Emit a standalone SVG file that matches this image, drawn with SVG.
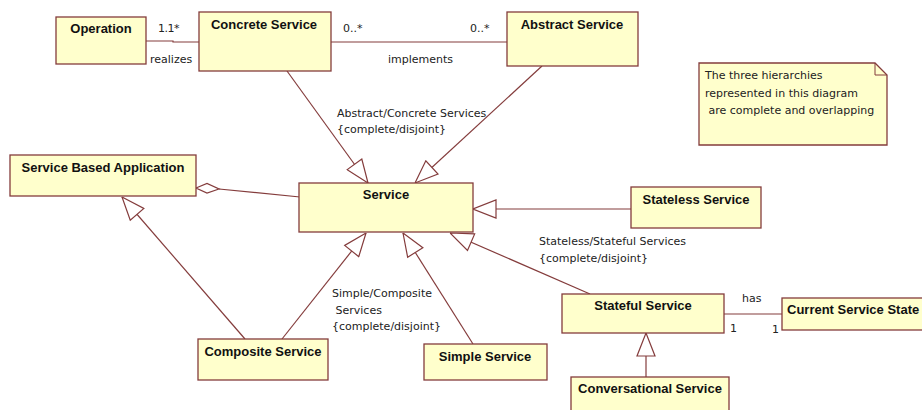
<svg xmlns="http://www.w3.org/2000/svg" width="922" height="410" viewBox="0 0 922 410">
  <style>
    .cls { fill: #ffffcc; stroke: #843c3c; stroke-width: 1.3; }
    .title { font-family: "Liberation Sans", Arial, sans-serif; font-size: 13px; font-weight: bold; fill: #111; text-anchor: middle; }
    .lbl { font-family: "DejaVu Sans", Verdana, sans-serif; font-size: 11px; fill: #222; }
    .ln { stroke: #843c3c; stroke-width: 1.2; fill: none; }
  </style>
  <defs>
    <!-- hollow generalization triangle, tip at the line start -->
    <marker id="genArrow" viewBox="0 0 26 20" refX="0" refY="10" markerWidth="26" markerHeight="20" markerUnits="userSpaceOnUse" orient="auto">
      <path d="M0,10 L23,1 L23,19 Z" fill="#fff" stroke="#843c3c" stroke-width="1.2"/>
    </marker>
  </defs>
  <rect width="922" height="410" fill="#fff"/>

  <!-- connectors -->
  <g id="connectors">
    <!-- realizes -->
    <polyline class="ln" points="146,41 173,41 173,42 199,42"/>
    <!-- implements -->
    <line class="ln" x1="331" y1="42" x2="507" y2="42"/>
    <!-- Abstract/Concrete generalizations -->
    <line class="ln" x1="368" y1="183" x2="287" y2="71" marker-start="url(#genArrow)"/>
    <line class="ln" x1="415" y1="183" x2="542" y2="66" marker-start="url(#genArrow)"/>
    <!-- aggregation -->
    <line class="ln" x1="219" y1="189" x2="300" y2="197"/>
    <path d="M196,188 L207,183.5 L219,189 L207,193 Z" fill="#fff" stroke="#843c3c" stroke-width="1.2"/>
    <!-- Composite to Service Based Application -->
    <line class="ln" x1="122" y1="197" x2="245" y2="339" marker-start="url(#genArrow)"/>
    <!-- Simple/Composite generalizations -->
    <line class="ln" x1="366" y1="233" x2="282" y2="339" marker-start="url(#genArrow)"/>
    <line class="ln" x1="403" y1="233" x2="473" y2="344" marker-start="url(#genArrow)"/>
    <!-- Stateless/Stateful generalizations -->
    <line class="ln" x1="473" y1="209" x2="631" y2="209" marker-start="url(#genArrow)"/>
    <line class="ln" x1="450" y1="233" x2="590" y2="294" marker-start="url(#genArrow)"/>
    <!-- Conversational to Stateful -->
    <line class="ln" x1="646" y1="333" x2="646" y2="377" marker-start="url(#genArrow)"/>
    <!-- has -->
    <line class="ln" x1="724" y1="314" x2="782" y2="314"/>

    <text class="lbl" x="158" y="32" letter-spacing="-0.5">1.1*</text>
    <text class="lbl" x="150" y="63">realizes</text>
    <text class="lbl" x="343" y="32">0..*</text>
    <text class="lbl" x="470" y="32">0..*</text>
    <text class="lbl" x="388" y="63">implements</text>
    <text class="lbl" x="337" y="117">Abstract/Concrete Services</text>
    <text class="lbl" x="337" y="133">{complete/disjoint}</text>
    <text class="lbl" x="539" y="245">Stateless/Stateful Services</text>
    <text class="lbl" x="539" y="262">{complete/disjoint}</text>
    <text class="lbl" x="332" y="297">Simple/Composite</text>
    <text class="lbl" x="332" y="314" xml:space="preserve"> Services</text>
    <text class="lbl" x="332" y="330">{complete/disjoint}</text>
    <text class="lbl" x="742" y="302">has</text>
    <text class="lbl" x="730" y="332">1</text>
    <text class="lbl" x="772" y="333">1</text>
  </g>

  <!-- classes -->
  <g id="operation">
    <rect class="cls" x="56" y="17" width="90" height="47"/>
    <text class="title" x="101" y="33">Operation</text>
  </g>
  <g id="concrete-service">
    <rect class="cls" x="199" y="12" width="132" height="59"/>
    <text class="title" x="264" y="29">Concrete Service</text>
  </g>
  <g id="abstract-service">
    <rect class="cls" x="507" y="12" width="131" height="54"/>
    <text class="title" x="572" y="29">Abstract Service</text>
  </g>
  <g id="note">
    <path d="M699,63 L875,63 L887,75 L887,145 L699,145 Z" fill="#ffffcc" stroke="#843c3c" stroke-width="1.3"/>
    <path d="M875,63 L875,75 L887,75" fill="none" stroke="#843c3c" stroke-width="1"/>
    <text class="lbl" x="705" y="79">The three hierarchies</text>
    <text class="lbl" x="705" y="97">represented in this diagram</text>
    <text class="lbl" x="705" y="114" xml:space="preserve"> are complete and overlapping</text>
  </g>
  <g id="service-based-application">
    <rect class="cls" x="10" y="155" width="186" height="41"/>
    <text class="title" x="103" y="172">Service Based Application</text>
  </g>
  <g id="service">
    <rect class="cls" x="299" y="183" width="174" height="49"/>
    <text class="title" x="386" y="199">Service</text>
  </g>
  <g id="stateless-service">
    <rect class="cls" x="631" y="187" width="130" height="41"/>
    <text class="title" x="696" y="204">Stateless Service</text>
  </g>
  <g id="stateful-service">
    <rect class="cls" x="562" y="294" width="162" height="39"/>
    <text class="title" x="643" y="310">Stateful Service</text>
  </g>
  <g id="current-service-state">
    <rect class="cls" x="782" y="298" width="150" height="32"/>
    <text class="title" x="787" y="314" style="text-anchor:start">Current Service State</text>
  </g>
  <g id="conversational-service">
    <rect class="cls" x="571" y="377" width="158" height="40"/>
    <text class="title" x="650" y="393">Conversational Service</text>
  </g>
  <g id="composite-service">
    <rect class="cls" x="198" y="339" width="130" height="41"/>
    <text class="title" x="263" y="356">Composite Service</text>
  </g>
  <g id="simple-service">
    <rect class="cls" x="424" y="344" width="123" height="36"/>
    <text class="title" x="485" y="361">Simple Service</text>
  </g>
</svg>
